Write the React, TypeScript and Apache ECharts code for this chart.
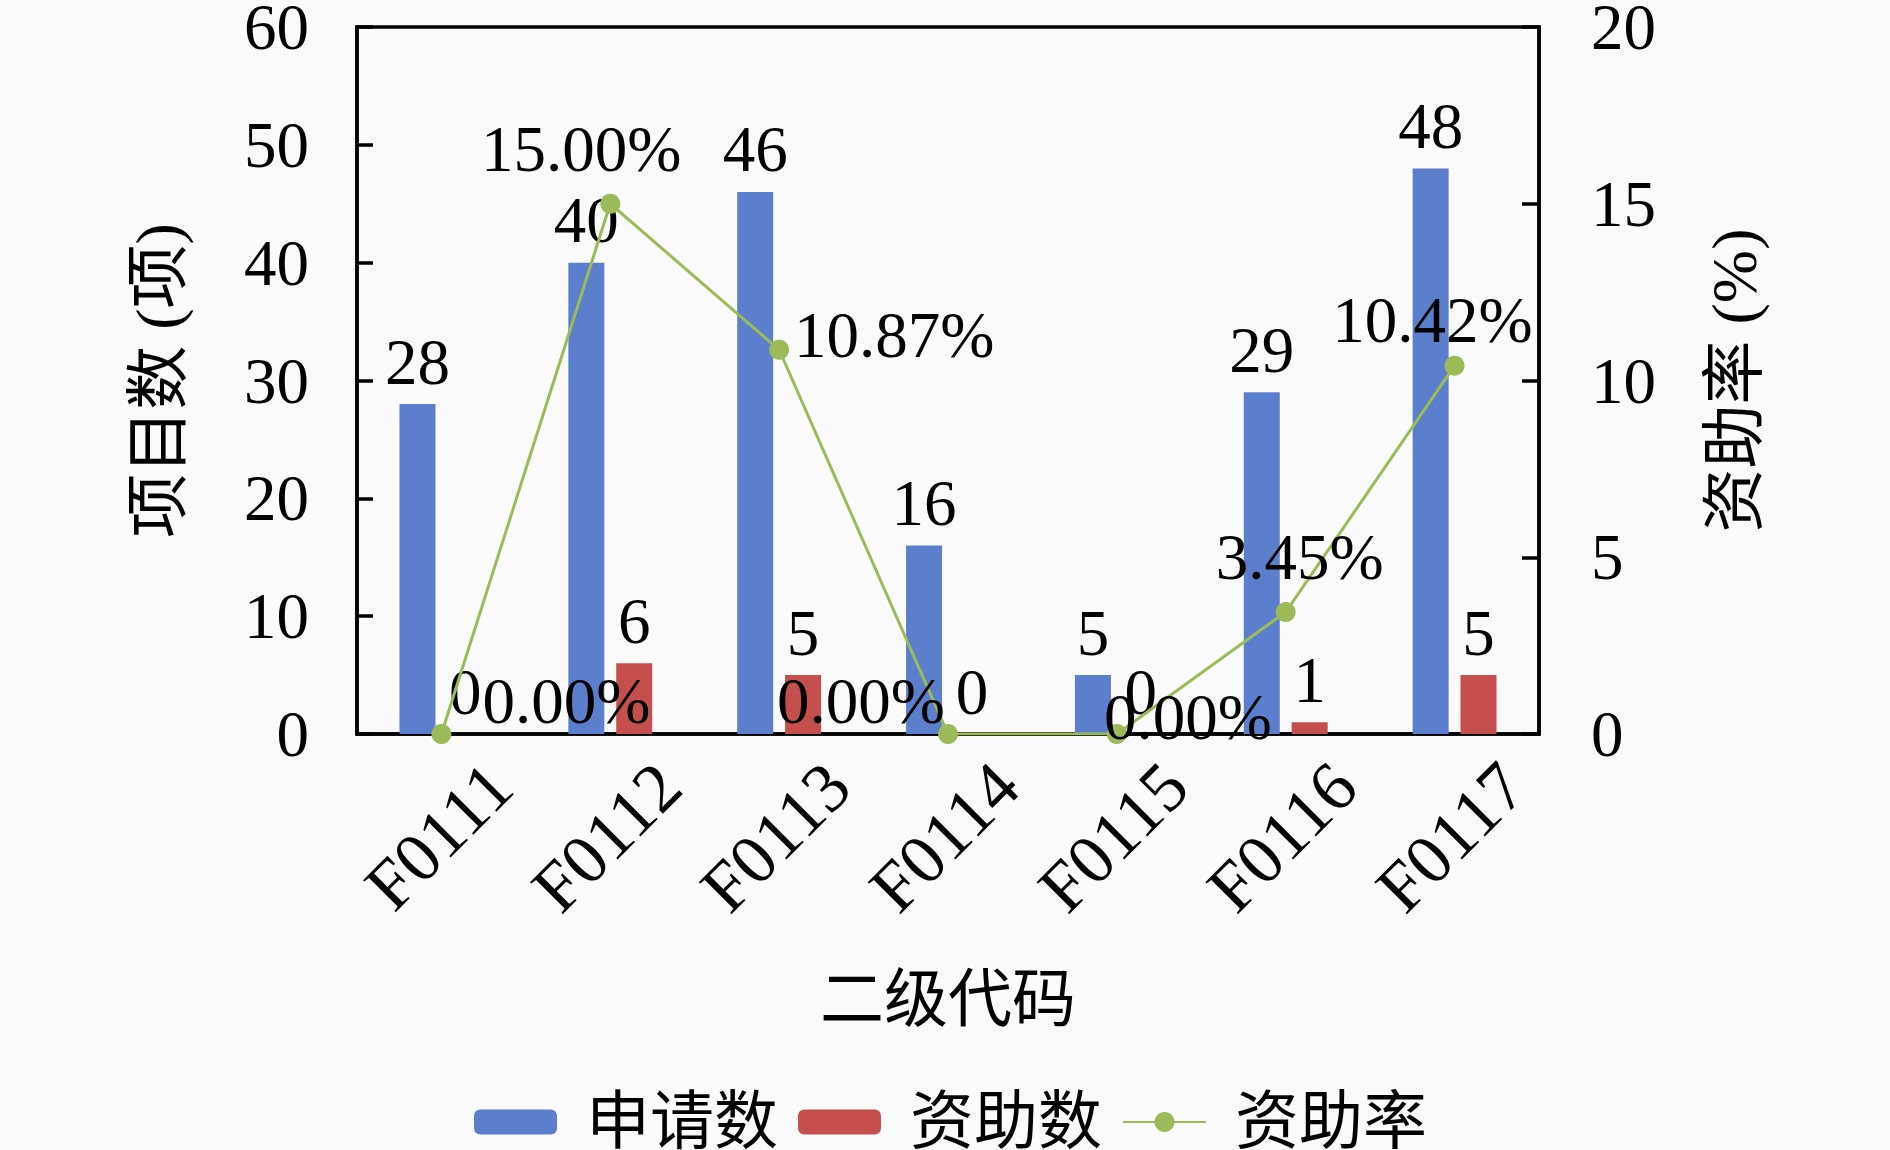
import React, { useEffect, useRef } from "react";
import * as echarts from "echarts";

const categories = ["F0111", "F0112", "F0113", "F0114", "F0115", "F0116", "F0117"];
const applied = [28, 40, 46, 16, 5, 29, 48];
const funded = [0, 6, 5, 0, 0, 1, 5];
const fundingRate = [0, 15.0, 10.87, 0, 0, 3.45, 10.42];
const leftTicks = { min: 0, max: 60, interval: 10 };
const rightTicks = { min: 0, max: 20, interval: 5 };
// label offsets (styling) for the rate labels, relative to each point
const rateLabelOffsets = [
  [125, -33],
  [-29, -55],
  [115, -15],
  [-87, -33],
  [71, -17],
  [14, -55],
  [-22, -46],
];

const FONT = '"Liberation Serif", "Noto Sans CJK SC", serif';
const FS = 65;
const FS_CJK = 64;
const BLUE = "#5B7FCC";
const RED = "#C44F4C";
const GREEN = "#9BBB59";

export default function App() {
  const ref = useRef<HTMLDivElement>(null);
  useEffect(() => {
    if (!ref.current) return;
    const chart = echarts.init(ref.current, null, { renderer: "svg" });
    const textBase = { fontFamily: FONT, fontSize: FS, color: "#000" };
    const cjkBase = { fontFamily: FONT, fontSize: FS_CJK, color: "#000" };
    chart.setOption({
      animation: false,
      backgroundColor: "#fafafa",
      textStyle: { fontFamily: FONT },
      grid: {
        left: 357,
        top: 27,
        right: 351,
        bottom: 416,
        outerBoundsMode: "none",
        show: true,
        borderColor: "#000",
        borderWidth: 3.5,
        backgroundColor: "transparent",
      },
      legend: {
        left: 469,
        top: 1085,
        itemWidth: 83,
        itemHeight: 25,
        itemGap: 20,
        textStyle: { ...cjkBase, padding: [0, 0, 0, 24] },
        data: ["申请数", "资助数", "资助率"],
      },
      xAxis: {
        type: "category",
        data: categories,
        name: "二级代码",
        nameLocation: "middle",
        nameGap: 233,
        nameMoveOverlap: false,
        nameTextStyle: { ...cjkBase },
        axisLine: { show: true, lineStyle: { color: "#000", width: 3.5 } },
        axisTick: { show: false },
        axisLabel: {
          ...textBase,
          fontSize: 70,
          rotate: 45,
          interval: 0,
          margin: -18,
          verticalAlign: "top",
          lineHeight: 166,
        },
        splitLine: { show: false },
      },
      yAxis: [
        {
          type: "value",
          ...leftTicks,
          name: "项目数 (项)",
          nameLocation: "middle",
          nameRotate: 90,
          nameGap: 167,
          nameMoveOverlap: false,
          nameTextStyle: { ...cjkBase },
          axisLine: { show: true, lineStyle: { color: "#000", width: 3.5 } },
          axisTick: { show: true, inside: true, length: 16, lineStyle: { color: "#000", width: 3.5 } },
          axisLabel: { ...textBase, margin: 48, padding: [0, 0, 10, 0] },
          splitLine: { show: false },
        },
        {
          type: "value",
          ...rightTicks,
          name: "资助率 (%)",
          nameLocation: "middle",
          nameRotate: 90,
          nameGap: 163,
          nameMoveOverlap: false,
          nameTextStyle: { ...cjkBase },
          position: "right",
          axisLine: { show: true, lineStyle: { color: "#000", width: 3.5 } },
          axisTick: { show: true, inside: true, length: 17, lineStyle: { color: "#000", width: 3.5 } },
          axisLabel: { ...textBase, margin: 52, padding: [0, 0, 10, 0] },
          splitLine: { show: false },
        },
      ],
      series: [
        {
          name: "申请数",
          type: "bar",
          data: applied,
          barWidth: 36,
          barGap: "33%",
          itemStyle: { color: BLUE },
          label: { show: true, position: "top", distance: 10, ...textBase },
        },
        {
          name: "资助数",
          type: "bar",
          data: funded,
          barWidth: 36,
          barGap: "33%",
          itemStyle: { color: RED },
          label: { show: true, position: "top", distance: 10, ...textBase },
        },
        {
          name: "资助率",
          type: "line",
          yAxisIndex: 1,
          data: fundingRate.map((v, i) => ({
            value: v,
            label: { offset: rateLabelOffsets[i] },
          })),
          symbol: "circle",
          symbolSize: 20,
          z: 5,
          lineStyle: { color: GREEN, width: 3 },
          itemStyle: { color: GREEN },
          label: {
            show: true,
            position: "inside",
            ...textBase,
            formatter: (p: any) => Number(p.value).toFixed(2) + "%",
          },
        },
      ],
    });
    return () => chart.dispose();
  }, []);
  return (
    <div
      ref={ref}
      style={{ position: "fixed", left: 0, top: 0, width: 1890, height: 1150 }}
    />
  );
}
